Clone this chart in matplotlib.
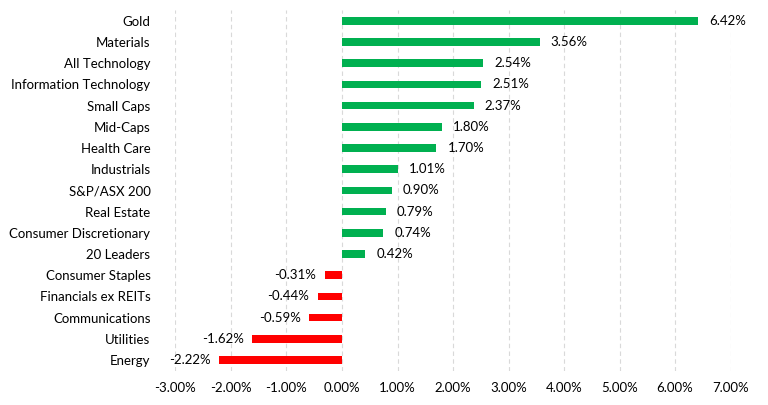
import matplotlib.pyplot as plt
from matplotlib.ticker import FuncFormatter

plt.rcParams['font.family'] = ['Lato', 'DejaVu Sans']

categories = ['Gold', 'Materials', 'All Technology', 'Information Technology', 'Small Caps',
              'Mid-Caps', 'Health Care', 'Industrials', 'S&P/ASX 200', 'Real Estate',
              'Consumer Discretionary', '20 Leaders', 'Consumer Staples', 'Financials ex REITs',
              'Communications', 'Utilities', 'Energy']
values = [6.42, 3.56, 2.54, 2.51, 2.37, 1.80, 1.70, 1.01, 0.90, 0.79, 0.74, 0.42,
          -0.31, -0.44, -0.59, -1.62, -2.22]
xticks = [-3, -2, -1, 0, 1, 2, 3, 4, 5, 6, 7]

fig = plt.figure(figsize=(7.68, 4.05), dpi=100)
ax = fig.add_axes([0.2285, 0.085, 0.7227, 0.89])

ypos = list(range(len(categories)))
colors = ['#00B050' if v >= 0 else '#FF0000' for v in values]
ax.barh(ypos, values, height=0.36, color=colors, zorder=3)

for y, v in zip(ypos, values):
    if v >= 0:
        ax.text(v + 0.2, y, f'{v:.2f}%', va='center', ha='left', fontsize=9.5, color='#000000')
    else:
        ax.text(v - 0.15, y, f'{v:.2f}%', va='center', ha='right', fontsize=9.5, color='#000000')

ax.set_yticks(ypos)
ax.set_yticklabels(categories, fontsize=9.5)
ax.set_ylim(len(categories) - 0.5, -0.5)
ax.set_xlim(-3, 7)
ax.set_xticks(xticks)
ax.xaxis.set_major_formatter(FuncFormatter(lambda x, p: f'{x:.2f}%'))
ax.tick_params(axis='x', length=0, labelsize=9.5, pad=8)
ax.tick_params(axis='y', length=0, pad=18)

ax.grid(axis='x', linestyle=(0, (4, 3)), color='#D9D9D9', linewidth=0.8, zorder=0)
for s in ax.spines.values():
    s.set_visible(False)

fig.savefig('out.png', dpi=100)
